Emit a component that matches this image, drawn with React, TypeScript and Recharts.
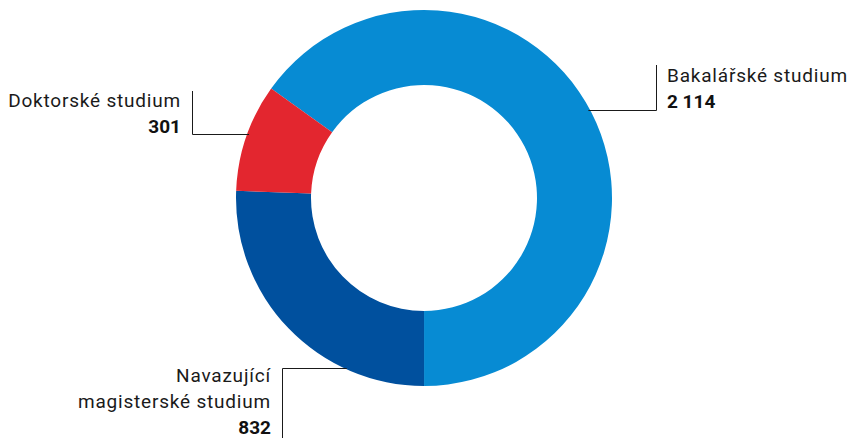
import React from 'react';
import { PieChart, Pie, Cell } from 'recharts';

const categories = ['Bakalářské studium', 'Navazující magisterské studium', 'Doktorské studium'];
const values = [2114, 832, 301];
const valueLabels = ['2 114', '832', '301'];
const COLORS = ['#078bd3', '#00509e', '#e3262f'];

// how each label is placed: the row of the leader line, the elbow x, and the text lines
const LABEL_LAYOUT = [
  { lineY: 110.5, elbowX: 656.5, topY: 65, side: 'right', textX: 667, lines: ['Bakalářské studium'], firstBaseline: 82 },
  { lineY: 368.5, elbowX: 282.5, topY: 438, side: 'left', textX: 271, lines: ['Navazující', 'magisterské studium'], firstBaseline: 382 },
  { lineY: 134.5, elbowX: 192.5, topY: 91, side: 'left', textX: 181, lines: ['Doktorské studium'], firstBaseline: 107 },
];

const data = categories.map((name, i) => ({ name, value: values[i], label: valueLabels[i] }));

const FONT = 'Roboto, "Noto Sans", sans-serif';

const renderLabel = (props: any) => {
  const { cx, cy, outerRadius, index } = props;
  const l = LABEL_LAYOUT[index];
  const dy = l.lineY - cy;
  const dx = Math.sqrt(Math.max(outerRadius * outerRadius - dy * dy, 0));
  const edgeX = l.side === 'right' ? cx + dx - 2 : cx - dx + 2;
  const anchor = l.side === 'right' ? 'start' : 'end';
  const lineH = 26;
  return (
    <g key={`lbl-${index}`}>
      <polyline
        points={`${edgeX},${l.lineY} ${l.elbowX},${l.lineY} ${l.elbowX},${l.topY}`}
        fill="none"
        stroke="#1a1a1a"
        strokeWidth={1}
      />
      {l.lines.map((t, k) => (
        <text key={k} x={l.textX} y={l.firstBaseline + k * lineH} textAnchor={anchor} fontSize={19} letterSpacing={0.8} fill="#1a1a1a" fontFamily={FONT}>
          {t}
        </text>
      ))}
      <text x={l.textX} y={l.firstBaseline + (l.lines.length - 1) * lineH + 26} textAnchor={anchor} fontSize={19} fontWeight={700} fill="#111" fontFamily={FONT}>
        {data[index].label}
      </text>
    </g>
  );
};

export default function App() {
  return (
    <div style={{ position: 'absolute', left: 0, top: 0, background: '#fff' }}>
      <PieChart width={851} height={438}>
        <Pie
          data={data}
          dataKey="value"
          cx={419}
          cy={193}
          innerRadius={113}
          outerRadius={188}
          startAngle={144.4}
          endAngle={-215.6}
          stroke="none"
          isAnimationActive={false}
          label={renderLabel}
          labelLine={false}
        >
          {data.map((d, i) => (
            <Cell key={d.name} fill={COLORS[i]} />
          ))}
        </Pie>
      </PieChart>
    </div>
  );
}
